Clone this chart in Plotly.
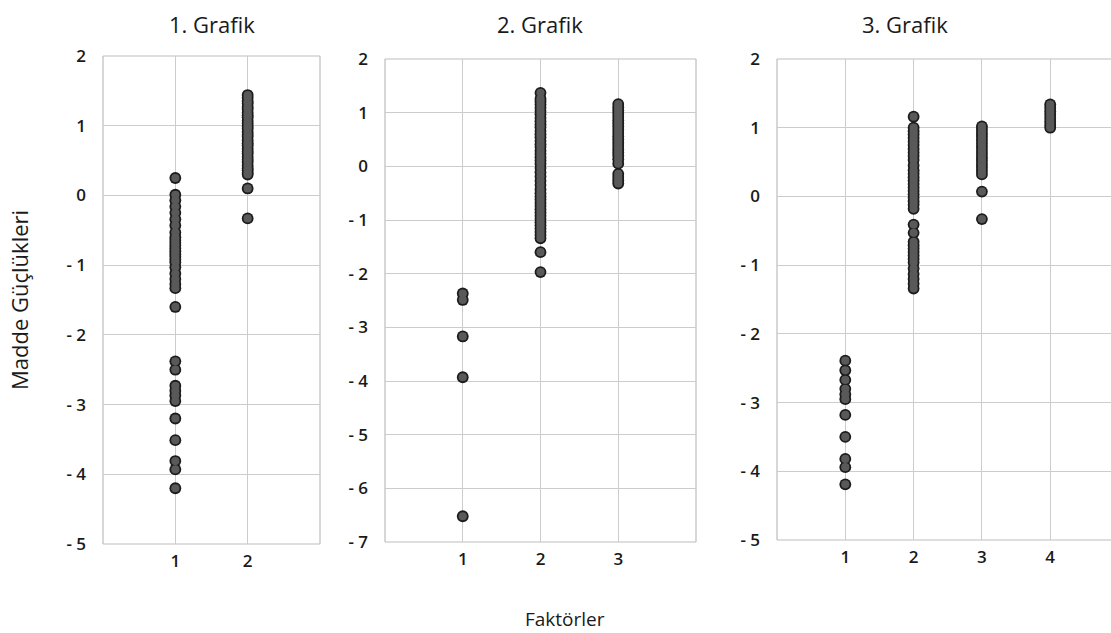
import plotly.graph_objects as go

# Item difficulties (Madde Güçlükleri) per factor, for each of the three solutions
g1_f1 = [0.25, 0.01, -0.07, -0.16, -0.25, -0.34, -0.43, -0.53, -0.60, -0.64,
         -0.68, -0.72, -0.76, -0.80, -0.84, -0.88, -0.92, -0.96, -1.03, -1.12,
         -1.20, -1.27, -1.33, -1.60, -2.38, -2.50, -2.73, -2.80, -2.87, -2.95,
         -3.20, -3.51, -3.81, -3.93, -4.20]
g1_f2 = [1.44, 1.40, 1.35, 1.32, 1.27, 1.24, 1.19, 1.15, 1.12, 1.07, 1.03, 0.99,
         0.96, 0.91, 0.87, 0.84, 0.79, 0.75, 0.72, 0.67, 0.63, 0.60, 0.55, 0.51,
         0.48, 0.43, 0.39, 0.36, 0.32, 0.30, 0.10, -0.33]

g2_f1 = [-2.37, -2.49, -3.17, -3.93, -6.52]
g2_f2 = [1.37, 1.26, 1.21, 1.15, 1.09, 1.03, 0.97, 0.90, 0.84, 0.78, 0.73, 0.66,
         0.60, 0.54, 0.47, 0.41, 0.36, 0.29, 0.23, 0.17, 0.11, 0.05, -0.03, -0.11,
         -0.19, -0.27, -0.35, -0.43, -0.50, -0.56, -0.62, -0.68,
         -0.74, -0.80, -0.86, -0.92, -0.98, -1.04, -1.10, -1.16, -1.22, -1.28,
         -1.34, -1.60, -1.97]
g2_f3 = [1.16, 1.10, 1.04, 0.98, 0.92, 0.86, 0.80, 0.74, 0.68, 0.62, 0.56, 0.50,
         0.44, 0.38, 0.32, 0.26, 0.20, 0.13, 0.05, -0.14, -0.20, -0.26, -0.32]

g3_f1 = [-2.39, -2.53, -2.67, -2.80, -2.88, -2.95, -3.18, -3.50, -3.82, -3.94, -4.19]
g3_f2 = [1.16, 1.00, 0.95, 0.90, 0.85, 0.80, 0.75, 0.69, 0.64, 0.59, 0.53, 0.45,
         0.38, 0.33, 0.28, 0.23, 0.18, 0.13, 0.08, 0.03, -0.02, -0.07, -0.12,
         -0.18, -0.41, -0.53, -0.66, -0.71, -0.76, -0.81, -0.86, -0.91,
         -0.96, -1.05, -1.13, -1.20, -1.27, -1.34]
g3_f3 = [1.02, 0.97, 0.92, 0.87, 0.82, 0.77, 0.72, 0.67, 0.62, 0.57, 0.52, 0.47,
         0.42, 0.37, 0.32, 0.07, -0.33]
g3_f4 = [1.34, 1.29, 1.24, 1.19, 1.14, 1.09, 1.04, 1.00]

panels = [
    {"title": "1. Grafik", "factors": [g1_f1, g1_f2], "xticks": [1, 2],
     "yticks": [-5, -4, -3, -2, -1, 0, 1, 2]},
    {"title": "2. Grafik", "factors": [g2_f1, g2_f2, g2_f3], "xticks": [1, 2, 3],
     "yticks": [-7, -6, -5, -4, -3, -2, -1, 0, 1, 2]},
    {"title": "3. Grafik", "factors": [g3_f1, g3_f2, g3_f3, g3_f4], "xticks": [1, 2, 3, 4],
     "yticks": [-5, -4, -3, -2, -1, 0, 1, 2]},
]

W, H = 1111, 633
# pixel boxes of the three plot areas: left, right, top, bottom
boxes = [(103, 320, 56, 544), (385, 696, 59, 542), (777, 1111, 59, 540)]
xranges = [[0, 3], [0, 4], [0, 4.89]]
title_x = [212, 540, 905]

GRID = "#cccccc"
FRAME = "#bdbdbd"
TXT = "#1a1a1a"
FONT = "Open Sans"


def tick_label(v):
    return f"- {abs(v)}" if v < 0 else str(v)


fig = go.Figure()
shapes = []
annotations = []

for i, (p, (l, r, t, b)) in enumerate(zip(panels, boxes)):
    xa = "x" if i == 0 else f"x{i + 1}"
    ya = "y" if i == 0 else f"y{i + 1}"
    # dark outline layer first, grey fill on top, so touching points merge
    for size, color in ((11.8, "#1c1c1c"), (8.2, "#595959")):
        for k, vals in enumerate(p["factors"]):
            fig.add_trace(go.Scatter(
                x=[k + 1] * len(vals), y=vals, mode="markers",
                xaxis=xa, yaxis=ya, showlegend=False, cliponaxis=False,
                hoverinfo="skip" if size < 10 else None,
                marker=dict(size=size, color=color, line=dict(width=0)),
            ))
    dom_x = [l / W, r / W]
    dom_y = [1 - b / H, 1 - t / H]
    yt = p["yticks"]
    fig.layout[("xaxis" if i == 0 else f"xaxis{i + 1}")] = dict(
        domain=dom_x, range=xranges[i], anchor=ya, automargin=False,
        tickvals=p["xticks"], ticktext=[str(v) for v in p["xticks"]],
        showgrid=True, gridcolor=GRID, gridwidth=1, zeroline=False,
        showline=False, ticks="", ticklabelstandoff=5,
        tickfont=dict(family=FONT, size=17, color=TXT, weight=600), fixedrange=True,
    )
    fig.layout[("yaxis" if i == 0 else f"yaxis{i + 1}")] = dict(
        domain=dom_y, range=[yt[0], yt[-1]], anchor=xa, automargin=False,
        tickvals=yt, ticktext=[tick_label(v) for v in yt],
        showgrid=True, gridcolor=GRID, gridwidth=1, zeroline=False,
        showline=False, ticks="", ticklabelstandoff=16,
        tickfont=dict(family=FONT, size=17, color=TXT, weight=600), fixedrange=True,
    )
    # frame around the plot area (panel 3 runs off the right edge)
    xd, yd = f"{xa} domain", f"{ya} domain"
    sides = [(0, 0, 0, 1), (0, 1, 1, 1), (0, 0, 1, 0)]
    if i < 2:
        sides.append((1, 0, 1, 1))
    for x0, y0, x1, y1 in sides:
        shapes.append(dict(type="line", xref=xd, yref=yd, x0=x0, y0=y0, x1=x1, y1=y1,
                           layer="below", line=dict(color=FRAME, width=1.2)))
    annotations.append(dict(text=p["title"], x=title_x[i] / W, y=1 - 24 / H,
                            xref="paper", yref="paper", showarrow=False,
                            xanchor="center", yanchor="middle",
                            font=dict(family=FONT, size=22, color=TXT)))

annotations.append(dict(text="Madde Güçlükleri", x=19 / W, y=1 - 300 / H,
                        xref="paper", yref="paper", showarrow=False, textangle=-90,
                        xanchor="center", yanchor="middle",
                        font=dict(family=FONT, size=22, color=TXT)))
annotations.append(dict(text="Faktörler", x=565 / W, y=1 - 619 / H,
                        xref="paper", yref="paper", showarrow=False,
                        xanchor="center", yanchor="middle",
                        font=dict(family=FONT, size=19, color=TXT)))

fig.update_layout(
    template="none",
    width=W, height=H, margin=dict(l=0, r=0, t=0, b=0),
    paper_bgcolor="white", plot_bgcolor="white",
    shapes=shapes, annotations=annotations,
)

fig.write_html("out.html", config={"displayModeBar": False})
